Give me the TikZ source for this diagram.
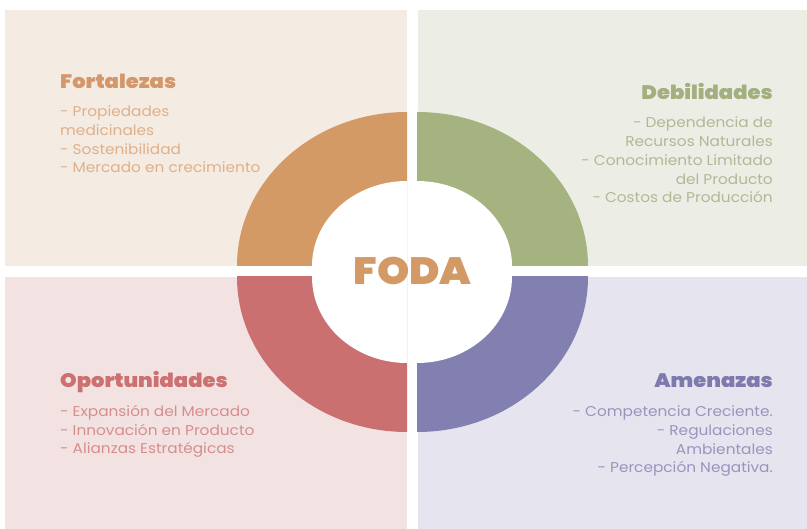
\documentclass[tikz,border=0pt]{standalone}
\usepackage{fontspec}
\setmainfont{Poppins}[FakeStretch=1.08,BoldFont={Poppins Black}]
\definecolor{bgF}{HTML}{F4EBE2}
\definecolor{bgD}{HTML}{ECEEE6}
\definecolor{bgO}{HTML}{F3E2E2}
\definecolor{bgA}{HTML}{E6E4EE}
\definecolor{cF}{HTML}{D49A66}
\definecolor{cD}{HTML}{A4B380}
\definecolor{cO}{HTML}{CB7070}
\definecolor{cA}{HTML}{8180B0}
\definecolor{tF}{HTML}{D4976A}
\definecolor{tD}{HTML}{A3AF7E}
\definecolor{tO}{HTML}{CC7070}
\definecolor{tA}{HTML}{7E7AAE}
\definecolor{iF}{HTML}{E0B089}
\definecolor{iD}{HTML}{B0B995}
\definecolor{iO}{HTML}{D68E8D}
\definecolor{iA}{HTML}{9895BE}
\tikzset{
  title/.style={inner sep=0pt,font=\fontsize{19.5}{22}\selectfont\bfseries},
  items/.style={inner sep=0pt,font=\fontsize{14.2}{18.9}\selectfont},
}
\begin{document}
\begin{tikzpicture}[x=1pt,y=-1pt]
\useasboundingbox (0,0) rectangle (807,529);
\fill[white] (0,0) rectangle (807,529);
% panels
\fill[bgF] (5,10) rectangle (407,266);
\fill[bgD] (418,10) rectangle (807,266);
\fill[bgO] (5,277) rectangle (407,529);
\fill[bgA] (418,277) rectangle (807,529);
% ring quarters
\begin{scope}
\clip (237,100) rectangle (407,266);
\fill[cF] (407,266) ellipse[x radius=170,y radius=154];
\fill[white] (407,266) ellipse[x radius=95,y radius=85];
\end{scope}
\begin{scope}
\clip (417,100) rectangle (600,266);
\fill[cD] (417,266) ellipse[x radius=171,y radius=154];
\fill[white] (417,266) ellipse[x radius=95,y radius=85];
\end{scope}
\begin{scope}
\clip (237,277) rectangle (407,440);
\fill[cO] (407,277) ellipse[x radius=170,y radius=155];
\fill[white] (407,277) ellipse[x radius=95,y radius=86];
\end{scope}
\begin{scope}
\clip (417,277) rectangle (600,440);
\fill[cA] (417,277) ellipse[x radius=171,y radius=155];
\fill[white] (417,277) ellipse[x radius=95,y radius=86];
\end{scope}
\node[inner sep=0pt,anchor=base,text=cF,font=\fontsize{38}{42}\selectfont\bfseries] (foda) at (412.5,285) {FODA};
% Fortalezas
\node[title,anchor=base west,text=tF] (ft) at (60,89) {Fortalezas};
\node[items,anchor=base west,text=iF,align=left] (fi) at (60,173) {- Propiedades\\medicinales\\- Sostenibilidad\\- Mercado en crecimiento};
% Debilidades
\node[title,anchor=base east,text=tD] (dt) at (773,100) {Debilidades};
\node[items,anchor=base east,text=iD,align=right] (di) at (773,203) {- Dependencia de\\Recursos Naturales\\- Conocimiento Limitado\\del Producto\\- Costos de Producción};
% Oportunidades
\node[title,anchor=base west,text=tO] (ot) at (60,388) {Oportunidades};
\node[items,anchor=base west,text=iO,align=left] (oi) at (60,454) {- Expansión del Mercado\\- Innovación en Producto\\- Alianzas Estratégicas};
% Amenazas
\node[title,anchor=base east,text=tA] (at) at (773,388) {Amenazas};
\node[items,anchor=base east,text=iA,align=right] (ai) at (773,473) {- Competencia Creciente.\\- Regulaciones\\Ambientales\\- Percepción Negativa.};
\end{tikzpicture}
\end{document}
